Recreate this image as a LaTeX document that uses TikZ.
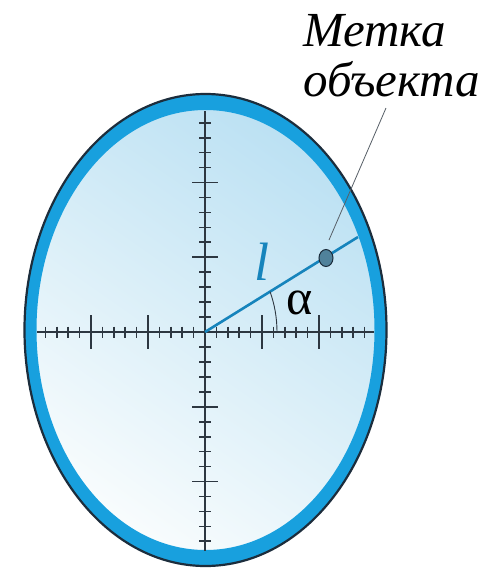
\documentclass[tikz,border=0pt]{standalone}
\usepackage{fontspec}
\setmainfont{Liberation Serif}
\usetikzlibrary{positioning,calc,shapes.geometric}

\definecolor{ringblue}{RGB}{24,160,222}
\definecolor{rimdark}{RGB}{28,45,60}
\definecolor{axisgray}{RGB}{45,55,65}
\definecolor{rayblue}{RGB}{22,132,188}
\definecolor{glassblue}{RGB}{188,225,243}
\definecolor{glasswhite}{RGB}{248,252,253}

\begin{document}
\begin{tikzpicture}[x=1pt, y=-1pt,
    axis/.style={axisgray, line width=1.8pt},
    tick/.style={axisgray, line width=1.7pt},
    ray/.style={rayblue, line width=2.6pt},
    leader/.style={axisgray!80, line width=0.8pt},
    objdot/.style={draw=rimdark, fill=rayblue!45!gray, line width=1pt, ellipse, inner sep=0pt, minimum width=14pt, minimum height=17pt},
    lbl/.style={font=\fontsize{49}{50}\selectfont\itshape, align=left, inner sep=0pt}
]
\useasboundingbox[fill=white] (0,0) rectangle (491,571);

% glass with gradient
\shade[top color=glassblue, bottom color=glasswhite, shading angle=-35]
    (205.5,330) ellipse[x radius=172, y radius=224];
% blue ring and dark rim
\fill[ringblue, even odd rule] (205.5,330) ellipse[x radius=181, y radius=236]
    (205.5,330) ellipse[x radius=169, y radius=220];
\draw[rimdark, line width=2.2pt] (205.5,330) ellipse[x radius=181, y radius=236];

% cross hair
\coordinate (o) at (205,332);
\draw[axis] (37,332) -- (374,332);
\draw[axis] (205,111) -- (205,551);
\foreach \i in {-14,...,14} {
    \draw[tick] ($(o)+(\i*11.4,-5.5)$) -- ++(0,11);
    \draw[tick] ($(o)+(-6,\i*14.95)$) -- ++(12,0);
}
\foreach \i in {-10,-5,5,10} {
    \draw[tick] ($(o)+(\i*11.4,-17)$) -- ++(0,34);
    \draw[tick] ($(o)+(-13,\i*14.95)$) -- ++(26,0);
}

% ray and angle
\coordinate (rim) at (358,237);
\draw[ray] (o) -- (rim);
\draw[axisgray, line width=0.9pt] (277,332) arc[start angle=0, end angle=-25.4, x radius=72, y radius=94];
\node[font=\fontsize{50}{50}\selectfont, inner sep=0pt] (alpha) at (300,303) {α};
\node[font=\fontsize{54}{54}\selectfont\itshape, text=rayblue, inner sep=0pt] (len) at (262,262) {l};

% object mark and its label
\node[objdot] (dot) at (326,258) {};
\node[lbl, anchor=south west] (label) at (303,97) {Метка\\объекта};
\coordinate (tip) at (386,108);
\coordinate (foot) at (329,240);
\draw[leader] (foot) -- (tip);
\end{tikzpicture}
\end{document}
